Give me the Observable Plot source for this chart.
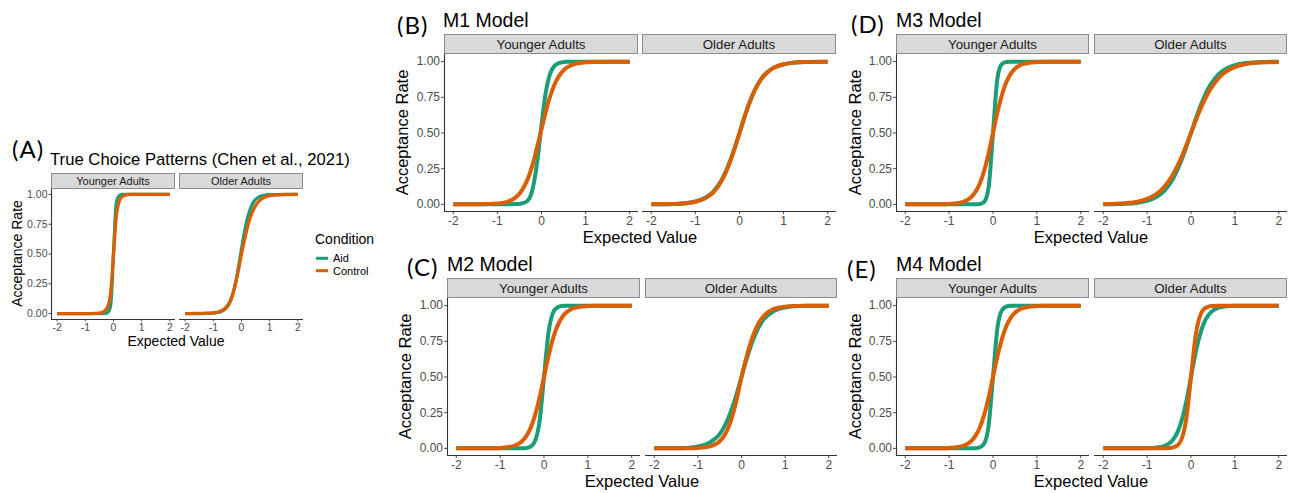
<!DOCTYPE html>
<html><head><meta charset="utf-8">
<script src="https://cdn.jsdelivr.net/npm/d3@7"></script>
<script src="https://cdn.jsdelivr.net/npm/@observablehq/plot@0.6"></script>
<style>
html,body{margin:0;padding:0;background:#fff;}
#root{position:relative;width:1295px;height:493px;overflow:hidden;background:#fff;font-family:"Liberation Sans",Arial,sans-serif;}
</style></head><body><div id="root"></div>
<script>
// ---------- data ----------
const conditions = ["Aid", "Control"];
const conditionColors = ["#1b9e77", "#d95f02"];
const ageGroups = ["Younger Adults", "Older Adults"];
const panelLetters = ["(A)", "(B)", "(C)", "(D)", "(E)"];
const panelTitles = ["True Choice Patterns (Chen et al., 2021)", "M1 Model", "M2 Model", "M3 Model", "M4 Model"];
const xTicks = [-2, -1, 0, 1, 2];
const yTicks = [0, 0.25, 0.5, 0.75, 1];
const expectedValue = [-2,-1.5,-1.2,-1,-0.8,-0.7,-0.6,-0.5,-0.4,-0.3,-0.2,-0.1,0,0.1,0.2,0.3,0.4,0.5,0.6,0.7,0.8,1,1.2,1.5,2];

// (A) True choice patterns
const A_young_aid = [0,0,0,0,0,0,0,0,0,0.001,0.01,0.07,0.5,0.93,0.99,1,1,1,1,1,1,1,1,1,1];
const A_young_ctl = [0,0,0,0,0,0.001,0.002,0.004,0.01,0.025,0.06,0.17,0.5,0.82,0.94,0.98,0.993,0.998,1,1,1,1,1,1,1];
const A_older_aid = [0,0,0.001,0.003,0.011,0.019,0.034,0.059,0.10,0.17,0.27,0.40,0.54,0.68,0.79,0.87,0.926,0.958,0.976,0.986,0.993,0.998,0.999,1,1];
const A_older_ctl = [0,0.001,0.003,0.006,0.015,0.025,0.04,0.065,0.105,0.17,0.265,0.375,0.5,0.612,0.713,0.80,0.86,0.906,0.939,0.96,0.974,0.99,0.996,0.999,1];
// (B) M1
const B_young_aid = [0,0,0,0,0,0.0005,0.0017,0.004,0.01,0.03,0.11,0.29,0.555,0.79,0.92,0.972,0.991,0.997,0.999,1,1,1,1,1,1];
const B_young_ctl = [0,0,0.002,0.006,0.016,0.026,0.045,0.074,0.122,0.187,0.28,0.40,0.526,0.653,0.761,0.843,0.90,0.939,0.963,0.978,0.987,0.995,0.998,1,1];
const B_older_aid = [0.0003,0.003,0.009,0.02,0.042,0.061,0.088,0.125,0.175,0.238,0.316,0.405,0.5,0.599,0.69,0.769,0.832,0.881,0.917,0.943,0.961,0.982,0.992,0.998,1];
const B_older_ctl = [0.0003,0.0025,0.008,0.018,0.039,0.057,0.083,0.119,0.168,0.231,0.31,0.401,0.5,0.599,0.69,0.769,0.832,0.881,0.917,0.943,0.961,0.982,0.992,0.998,1];
// (C) M2
const C_young_aid = [0,0,0,0,0,0,0.0002,0.0008,0.003,0.013,0.054,0.193,0.5,0.807,0.946,0.987,0.997,0.999,1,1,1,1,1,1,1];
const C_young_ctl = [0,0,0.001,0.003,0.009,0.016,0.028,0.05,0.087,0.146,0.236,0.357,0.5,0.643,0.764,0.854,0.913,0.95,0.972,0.984,0.991,0.997,0.999,1,1];
const C_older_aid = [0,0.0015,0.005,0.013,0.03,0.046,0.069,0.10,0.149,0.214,0.295,0.393,0.5,0.607,0.705,0.786,0.851,0.90,0.931,0.954,0.97,0.987,0.995,0.999,1];
const C_older_ctl = [0,0,0.001,0.003,0.009,0.016,0.028,0.05,0.087,0.146,0.236,0.357,0.5,0.622,0.731,0.818,0.881,0.924,0.953,0.971,0.982,0.993,0.998,1,1];
// (D) M3
const D_young_aid = [0,0,0,0,0,0,0,0,0.0003,0.0025,0.018,0.119,0.5,0.881,0.982,0.998,1,1,1,1,1,1,1,1,1];
const D_young_ctl = [0,0,0.001,0.003,0.009,0.016,0.028,0.05,0.087,0.146,0.236,0.357,0.5,0.643,0.764,0.854,0.913,0.95,0.972,0.984,0.991,0.997,0.999,1,1];
const D_older_aid = [0.0006,0.004,0.012,0.024,0.049,0.07,0.098,0.136,0.185,0.248,0.323,0.408,0.5,0.592,0.677,0.752,0.815,0.864,0.902,0.93,0.951,0.976,0.988,0.996,1];
const D_older_ctl = [0.0016,0.008,0.02,0.038,0.07,0.094,0.126,0.166,0.216,0.275,0.343,0.42,0.5,0.58,0.657,0.725,0.784,0.834,0.874,0.906,0.93,0.962,0.98,0.992,0.998];
// (E) M4
const E_young_aid = [0,0,0,0,0,0,0,0.0002,0.0013,0.007,0.034,0.159,0.5,0.841,0.966,0.993,0.999,1,1,1,1,1,1,1,1];
const E_young_ctl = [0,0,0.001,0.003,0.009,0.016,0.028,0.05,0.087,0.146,0.236,0.357,0.5,0.643,0.764,0.854,0.913,0.95,0.972,0.984,0.991,0.997,0.999,1,1];
const E_older_aid = [0,0,0,0.001,0.005,0.009,0.018,0.034,0.065,0.119,0.209,0.339,0.5,0.661,0.791,0.881,0.935,0.966,0.982,0.991,0.995,0.999,1,1,1];
const E_older_ctl = [0,0,0,0,0,0,0.0006,0.002,0.007,0.023,0.076,0.223,0.5,0.777,0.924,0.977,0.993,0.998,1,1,1,1,1,1,1];

const series = {
  A: [[A_young_aid, A_young_ctl], [A_older_aid, A_older_ctl]],
  B: [[B_young_aid, B_young_ctl], [B_older_aid, B_older_ctl]],
  C: [[C_young_aid, C_young_ctl], [C_older_aid, C_older_ctl]],
  D: [[D_young_aid, D_young_ctl], [D_older_aid, D_older_ctl]],
  E: [[E_young_aid, E_young_ctl], [E_older_aid, E_older_ctl]]
};

// ---------- layout (positions only) ----------
const X_DOMAIN = [-2.2, 2.2];
const Y_DOMAIN = [-0.05, 1.05];
const layout = [
  {id:"A", panels:[[51,175],[179,303]], yTop:188, yBot:319, strip:[173,189], lw:3.3, tick:2.5, tickFs:10.5, stripFs:11,
   letter:{x:12,y:158,fs:24}, title:{x:50,y:165,fs:16.7}, xlab:{x:176,y:346,fs:14}, ylab:{x:22,fs:14}},
  {id:"B", panels:[[444,638],[642,836]], yTop:54, yBot:211, strip:[34,54], lw:4, tick:3, tickFs:12, stripFs:13.3,
   letter:{x:397,y:34,fs:24}, title:{x:443,y:27,fs:19.5}, xlab:{x:640,y:242.5,fs:16.5}, ylab:{x:408,fs:16.5}},
  {id:"C", panels:[[447,640],[645,837]], yTop:298, yBot:455, strip:[278,298], lw:4, tick:3, tickFs:12, stripFs:13.3,
   letter:{x:407,y:276,fs:24}, title:{x:447,y:271,fs:19.5}, xlab:{x:642,y:486.5,fs:16.5}, ylab:{x:411,fs:16.5}},
  {id:"D", panels:[[896,1089],[1094,1287]], yTop:54, yBot:211, strip:[34,54], lw:4, tick:3, tickFs:12, stripFs:13.3,
   letter:{x:851,y:33,fs:24}, title:{x:896,y:27,fs:19.5}, xlab:{x:1091,y:242.5,fs:16.5}, ylab:{x:861,fs:16.5}},
  {id:"E", panels:[[896,1089],[1094,1287]], yTop:298, yBot:455, strip:[278,298], lw:4, tick:3, tickFs:12, stripFs:13.3,
   letter:{x:847,y:278,fs:24}, title:{x:896,y:271,fs:19.5}, xlab:{x:1091,y:486.5,fs:16.5}, ylab:{x:861,fs:16.5}}
];

const root = document.getElementById("root");
const FONT = '"Liberation Sans", Arial, sans-serif';

layout.forEach((g, gi) => {
  g.panels.forEach(([x0, x1], fi) => {
    const isLeft = fi === 0;
    const mL = isLeft ? 50 : 14, mR = 14, mT = 4, mB = 24;
    const rows = [];
    series[g.id][fi].forEach((vals, ci) => {
      vals.forEach((v, i) => rows.push({x: expectedValue[i], y: v, cond: conditions[ci]}));
    });
    const svg = Plot.plot({
      width: x1 - x0 + mL + mR,
      height: g.yBot - g.yTop + mT + mB,
      marginLeft: mL, marginRight: mR, marginTop: mT, marginBottom: mB,
      x: {domain: X_DOMAIN, ticks: xTicks, tickFormat: d => String(d), tickSize: g.tick, tickPadding: 1.5, label: null},
      y: {domain: Y_DOMAIN, ticks: yTicks, tickFormat: d => d.toFixed(2), tickSize: g.tick, tickPadding: 1.5, label: null, axis: isLeft ? "left" : null},
      color: {domain: conditions, range: conditionColors},
      style: {fontFamily: FONT, fontSize: g.tickFs + "px", color: "#4d4d4d", background: "none", overflow: "visible"},
      marks: [
        Plot.ruleY([Y_DOMAIN[0]], {stroke: "#333", strokeWidth: 1.1}),
        isLeft ? Plot.ruleX([X_DOMAIN[0]], {stroke: "#333", strokeWidth: 1.1}) : null,
        Plot.line(rows, {x: "x", y: "y", z: "cond", stroke: "cond", strokeWidth: g.lw, curve: "monotone-x", strokeLinecap: "butt"})
      ]
    });
    svg.style.position = "absolute";
    svg.style.left = (x0 - mL) + "px";
    svg.style.top = (g.yTop - mT) + "px";
    root.appendChild(svg);
  });
});

// ---------- overlay: strips, titles, axis titles, legend ----------
const ov = d3.select(root).append("svg")
  .attr("width", 1295).attr("height", 493)
  .style("position", "absolute").style("left", "0px").style("top", "0px")
  .style("font-family", FONT);

layout.forEach((g, gi) => {
  g.panels.forEach(([x0, x1], fi) => {
    ov.append("rect").attr("x", x0 + 0.5).attr("y", g.strip[0] + 0.5)
      .attr("width", x1 - x0 - 1).attr("height", g.strip[1] - g.strip[0] - 1)
      .attr("fill", "#d9d9d9").attr("stroke", "#8c8c8c").attr("stroke-width", 1);
    ov.append("text").attr("x", (x0 + x1) / 2).attr("y", (g.strip[0] + g.strip[1]) / 2 + g.stripFs * 0.36)
      .attr("text-anchor", "middle").attr("font-size", g.stripFs).attr("fill", "#1a1a1a").text(ageGroups[fi]);
  });
  ov.append("text").attr("x", g.letter.x).attr("y", g.letter.y)
    .attr("font-family", "Lato, 'Open Sans', sans-serif").attr("font-size", g.letter.fs)
    .attr("letter-spacing", 1).attr("fill", "#000").text(panelLetters[gi]);
  ov.append("text").attr("x", g.title.x).attr("y", g.title.y)
    .attr("font-size", g.title.fs).attr("fill", "#000").text(panelTitles[gi]);
  ov.append("text").attr("x", g.xlab.x).attr("y", g.xlab.y).attr("text-anchor", "middle")
    .attr("font-size", g.xlab.fs).attr("fill", "#000").text("Expected Value");
  const cy = (g.yTop + g.yBot) / 2;
  ov.append("text").attr("transform", `translate(${g.ylab.x},${cy}) rotate(-90)`).attr("text-anchor", "middle")
    .attr("font-size", g.ylab.fs).attr("fill", "#000").text("Acceptance Rate");
});

// legend for panel A
const leg = ov.append("g");
leg.append("text").attr("x", 315).attr("y", 244).attr("font-size", 14).attr("fill", "#000").text("Condition");
conditions.forEach((c, i) => {
  const y = 258.3 + i * 12.4;
  leg.append("line").attr("x1", 316).attr("x2", 328).attr("y1", y).attr("y2", y)
    .attr("stroke", conditionColors[i]).attr("stroke-width", 3);
  leg.append("text").attr("x", 333).attr("y", y + 3.9).attr("font-size", 11).attr("fill", "#000").text(c);
});
</script>
</body></html>
